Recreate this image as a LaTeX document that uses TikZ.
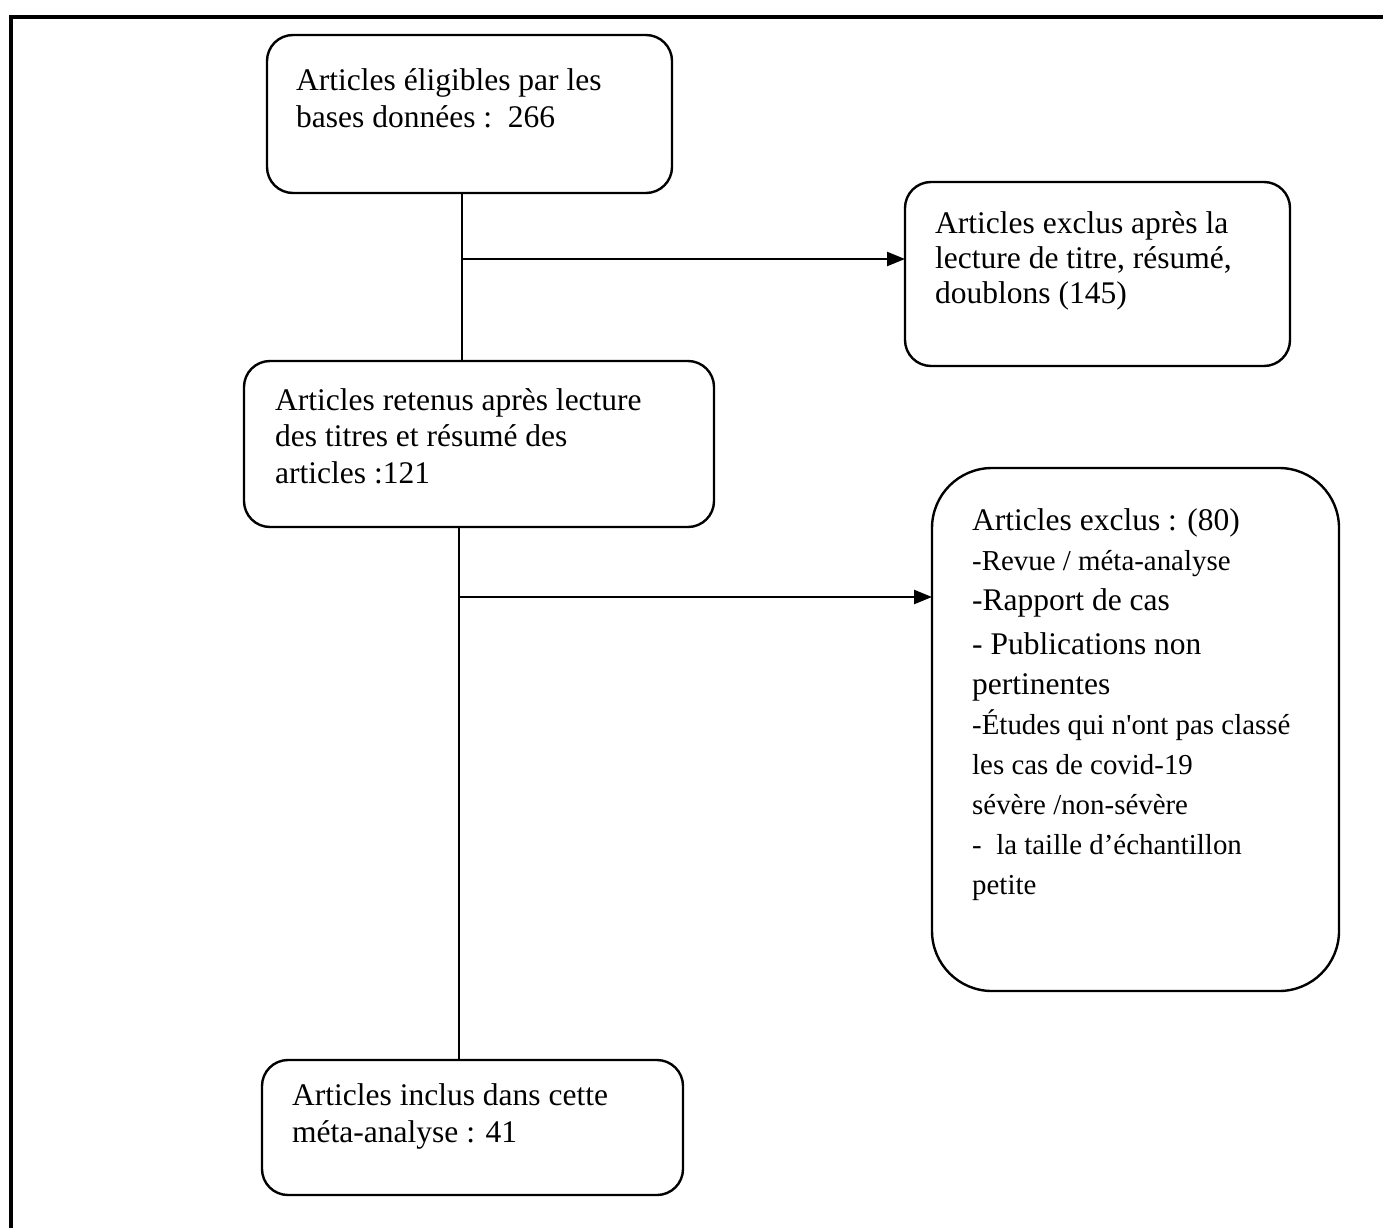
\documentclass[tikz,border=0pt]{standalone}
\usepackage{fontspec}
\setmainfont{Liberation Serif}
\usetikzlibrary{arrows.meta}

\newcommand{\eleven}{\fontsize{28.9}{40}\selectfont}
\newcommand{\squote}{\XeTeXglyph\XeTeXcharglyph"27\relax}

\begin{document}
\begin{tikzpicture}[x=1pt, y=-1pt,
    box/.style={draw, line width=2.4pt, rounded corners=26pt, anchor=north west, inner sep=0pt, outer sep=0pt},
    txt/.style={anchor=north west, inner sep=0pt, align=left, font=\fontsize{31.5}{37}\selectfont},
    flow/.style={line width=2.4pt, -{Triangle[length=18pt,width=14pt]}}]

            \useasboundingbox (0,0) rectangle (1383,1228);

            % frame
            \coordinate (fbl) at (11,1228);
            \coordinate (ftl) at (11,17);
            \coordinate (ftr) at (1383,17);
            \draw [line width=3.5pt] (fbl) -- (ftl) -- (ftr);

            \node [box, minimum width=405pt, minimum height=158pt] (elig) at (267,35) {};
            \node [txt] (eligtxt) at (296,64) {\strut Articles éligibles par les\\bases données :\ \ 266};

            \node [box, minimum width=385pt, minimum height=184pt] (excl) at (905,182) {};
            \node [txt, font=\fontsize{31.5}{35}\selectfont] (excltxt) at (935,208.5) {\strut Articles exclus après la\\lecture de titre, résumé,\\doublons (145)};

            \node [box, minimum width=470pt, minimum height=166pt] (ret) at (244,361) {};
            \node [txt, font=\fontsize{31.5}{36.5}\selectfont] (rettxt) at (275,384.5) {\strut Articles retenus après lecture\\des titres et résumé des\\articles :121};

            \node [box, rounded corners=60pt, minimum width=407pt, minimum height=523pt] (exclb) at (932,468) {};
            \node [txt, font=\fontsize{31.5}{40}\selectfont] (exclbtxt) at (972,502) {\strut Articles exclus : (80)\\
                {\eleven -Revue / méta-analyse}\\
                -Rapport de cas\\[4pt]
                - Publications non\\
                pertinentes\\
                {\eleven -Études qui n\squote ont pas classé}\\
                {\eleven les cas de covid-19}\\
                {\eleven sévère /non-sévère}\\
                {\eleven -\ \ la taille d’échantillon}\\
                {\eleven petite}};

            \node [box, minimum width=421pt, minimum height=135pt] (incl) at (262,1060) {};
            \node [txt] (incltxt) at (292,1079) {\strut Articles inclus dans cette\\méta-analyse : 41};

            % connectors
            \coordinate (j1) at (462,259);
            \draw [line width=2.4pt] (j1 |- elig.south) -- (j1 |- ret.north);
            \draw [flow] (j1) -- (j1 -| excl.west);

            \coordinate (j2) at (459,597);
            \draw [line width=1.2pt] (j2 |- ret.south) -- (j2 |- incl.north);
            \draw [flow] (j2) -- (j2 -| exclb.west);

        \end{tikzpicture}
\end{document}
